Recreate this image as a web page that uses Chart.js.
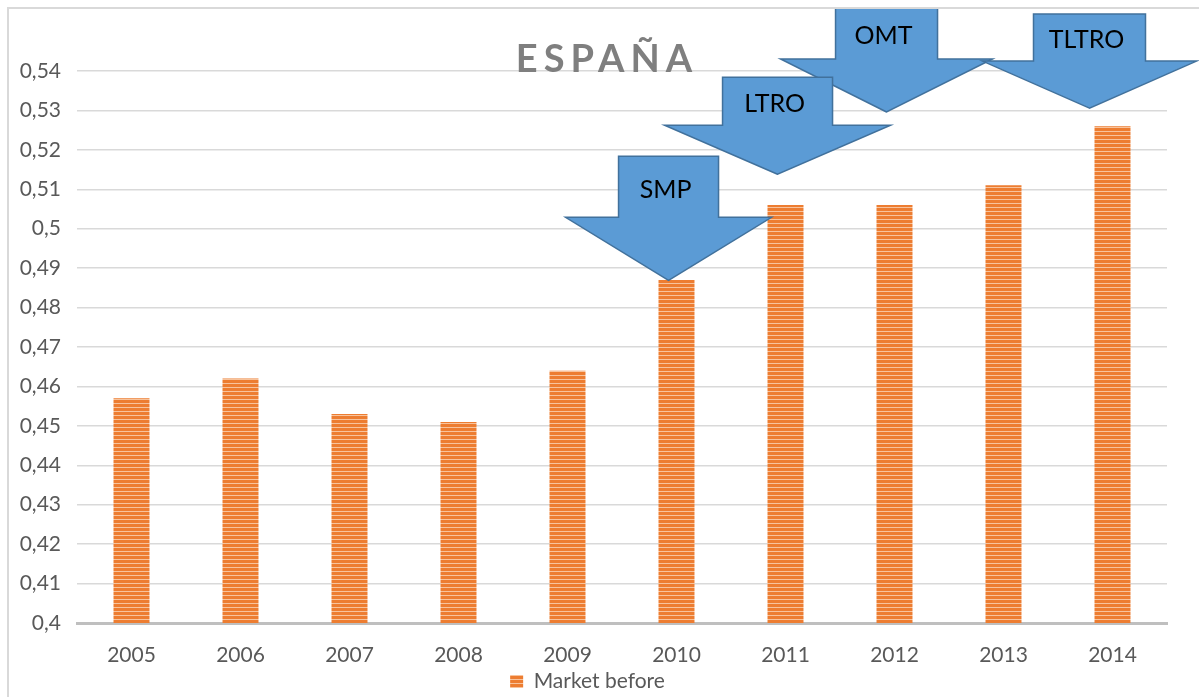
<!DOCTYPE html>
<html lang="es">
<head>
    <meta charset="utf-8" />
    <title>España - Market before</title>
    <style>
        html, body { margin: 0; padding: 0; background: #fff; }
        #wrap { width: 1199px; height: 697px; position: relative; }
    </style>
</head>
<body>
    <div id="wrap"><canvas id="chart"></canvas></div>

    <script src="https://cdn.jsdelivr.net/npm/chart.js@4.4.3/dist/chart.umd.min.js"></script>
    <script>
        // data
        const years = ['2005', '2006', '2007', '2008', '2009', '2010', '2011', '2012', '2013', '2014'];
        const marketBefore = [0.457, 0.462, 0.453, 0.451, 0.464, 0.487, 0.506, 0.506, 0.511, 0.526];
        const seriesName = 'Market before';
        const chartTitle = 'ESPAÑA';

        // policy arrows: label, tip position (category index, value)
        const arrowLabels = ['OMT', 'TLTRO', 'LTRO', 'SMP'];
        const arrowTipIndex = [6.927, 8.789, 5.927, 4.927];
        const arrowTipValue = [0.5296, 0.5306, 0.5138, 0.4869];

        // arrow shapes in pixels relative to tip (head, top, shaft half, head half)
        const arrowShapes = [
            { head: 53, top: 104, shaft: 51, wing: 106 },
            { head: 47, top: 94, shaft: 56, wing: 107 },
            { head: 49, top: 97, shaft: 55, wing: 113 },
            { head: 63, top: 124, shaft: 50, wing: 103 }
        ];

        const FONT = "Lato, 'Open Sans', sans-serif";

        function stripes() {
            const c = document.createElement('canvas');
            c.width = 4;
            c.height = 4;
            const g = c.getContext('2d');
            g.fillStyle = '#ed7d31';
            g.fillRect(0, 0, 4, 4);
            g.fillStyle = '#f8c39c';
            g.fillRect(0, 3, 4, 1);
            return g.createPattern(c, 'repeat');
        }

        const framePlugin = {
            id: 'frame',
            beforeDraw(chart) {
                const ctx = chart.ctx;
                ctx.save();
                ctx.fillStyle = '#fff';
                ctx.fillRect(0, 0, chart.width, chart.height);
                ctx.strokeStyle = '#d9d9d9';
                ctx.lineWidth = 2;
                ctx.strokeRect(8, 8, chart.width + 20, chart.height + 20);
                ctx.restore();
            }
        };

        const overlayPlugin = {
            id: 'overlay',
            afterDraw(chart) {
                const ctx = chart.ctx;
                const xs = chart.scales.x;
                const ys = chart.scales.y;

                // title
                ctx.save();
                ctx.font = "bold 38px " + FONT;
                ctx.fillStyle = '#7f7f7f';
                ctx.textAlign = 'center';
                ctx.textBaseline = 'alphabetic';
                ctx.letterSpacing = '6px';
                ctx.fillText(chartTitle, 607, 72);
                ctx.restore();

                // arrows
                ctx.save();
                ctx.beginPath();
                ctx.rect(9, 9, chart.width, chart.height);
                ctx.clip();
                arrowLabels.forEach((label, i) => {
                    const s = arrowShapes[i];
                    const tx = xs.getPixelForValue(arrowTipIndex[i]);
                    const ty = ys.getPixelForValue(arrowTipValue[i]);
                    ctx.beginPath();
                    ctx.moveTo(tx, ty);
                    ctx.lineTo(tx - s.wing, ty - s.head);
                    ctx.lineTo(tx - s.shaft, ty - s.head);
                    ctx.lineTo(tx - s.shaft, ty - s.top);
                    ctx.lineTo(tx + s.shaft, ty - s.top);
                    ctx.lineTo(tx + s.shaft, ty - s.head);
                    ctx.lineTo(tx + s.wing, ty - s.head);
                    ctx.closePath();
                    ctx.fillStyle = '#5b9bd5';
                    ctx.fill();
                    ctx.strokeStyle = '#41719c';
                    ctx.lineWidth = 1.5;
                    ctx.stroke();

                    ctx.fillStyle = '#000';
                    ctx.font = "25px " + FONT;
                    ctx.textAlign = 'center';
                    ctx.textBaseline = 'middle';
                    ctx.fillText(label, tx - 3, ty - s.top + (s.top - s.head) * 0.55);
                });
                ctx.restore();
            }
        };

        const config = {
            type: 'bar',
            data: {
                labels: years,
                datasets: [{
                    label: seriesName,
                    data: marketBefore,
                    backgroundColor: stripes(),
                    borderWidth: 0,
                    categoryPercentage: 1,
                    barPercentage: 0.33
                }]
            },
            options: {
                responsive: true,
                maintainAspectRatio: false,
                animation: false,
                layout: {
                    padding: { left: 8, right: 32, top: 71, bottom: -5 }
                },
                plugins: {
                    legend: {
                        position: 'bottom',
                        labels: {
                            font: { family: FONT, size: 21 },
                            color: '#595959',
                            boxWidth: 13,
                            boxHeight: 13,
                            padding: 0
                        }
                    },
                    title: { display: false },
                    tooltip: { enabled: false }
                },
                scales: {
                    x: {
                        grid: { display: false },
                        border: { color: '#bfbfbf', width: 3 },
                        afterFit(scale) { scale.height = 48; },
                        ticks: {
                            font: { family: FONT, size: 21 },
                            color: '#595959',
                            padding: 12
                        }
                    },
                    y: {
                        min: 0.4,
                        max: 0.54,
                        afterFit(scale) { scale.width = 69; },
                        border: { display: false },
                        grid: { color: '#d9d9d9', lineWidth: 1.5, drawTicks: false },
                        ticks: {
                            stepSize: 0.01,
                            font: { family: FONT, size: 21 },
                            color: '#595959',
                            padding: 16,
                            callback: v => String(Number(v.toFixed(2))).replace('.', ',')
                        }
                    }
                }
            },
            plugins: [framePlugin, overlayPlugin]
        };

        new Chart(document.getElementById('chart'), config);
    </script>
</body>
</html>
